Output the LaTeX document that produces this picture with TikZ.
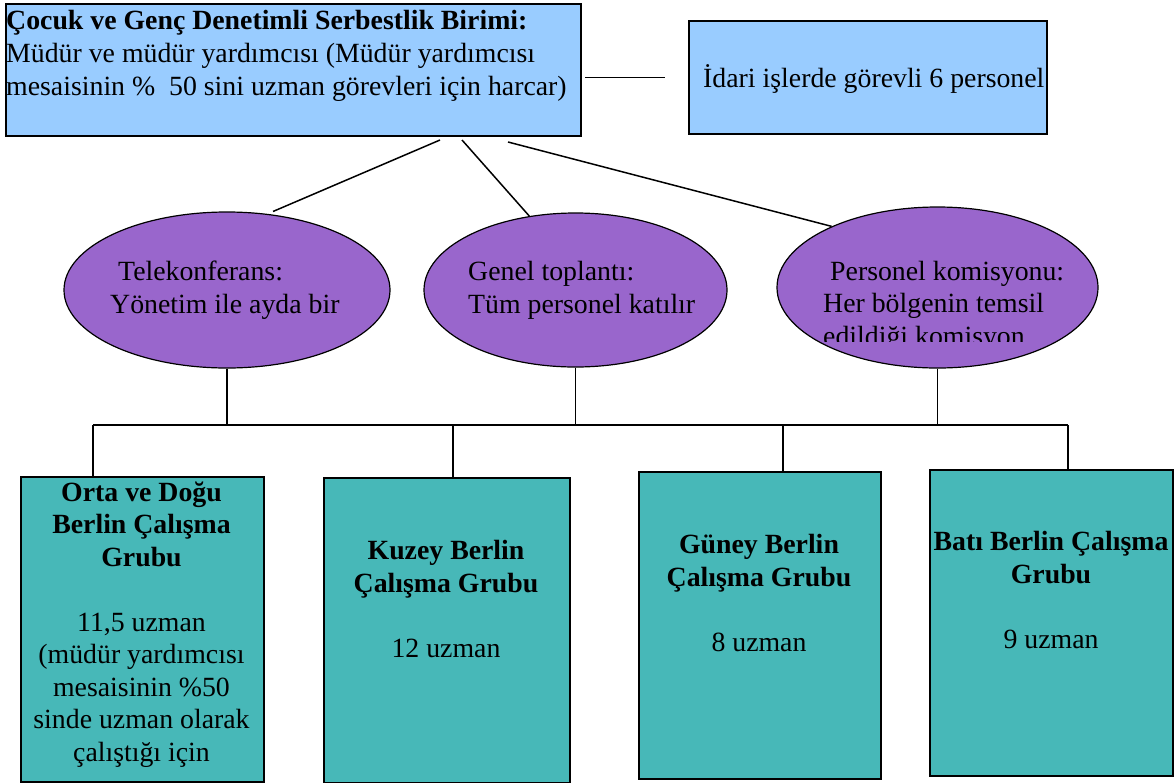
\documentclass[tikz,border=0pt]{standalone}
\usepackage{fontspec}
\setmainfont{Liberation Serif}
\usepackage{xcolor}
\usepackage{tikz}
\usetikzlibrary{calc, positioning, shapes.geometric}
\definecolor{unitblue}{HTML}{99CCFF}
\definecolor{meetpurple}{HTML}{9966CC}
\definecolor{groupteal}{HTML}{47B8B8}
\def\txt{\fontsize{27.8}{32.5}\selectfont}
\def\toptxt{\fontsize{27.8}{33}\selectfont}

\begin{document}
\begin{tikzpicture}[x=1pt, y=-1pt,
    topbox/.style={draw, line width=2pt, fill=unitblue, anchor=north west, inner sep=0pt},
    meeting/.style={draw, line width=1.2pt, fill=meetpurple, ellipse, inner sep=0pt},
    groupbox/.style={draw, line width=2pt, fill=groupteal, anchor=north west, inner sep=0pt},
    boxtext/.style={font=\txt, align=left, anchor=base west, inner sep=0pt},
    grouptext/.style={font=\txt, align=center, anchor=base, inner sep=0pt},
    link/.style={line width=1.5pt}]
    \useasboundingbox (0,0) rectangle (1174,782);

    % top row (text nodes sit on the baseline of their last line)
    \node[topbox, minimum width=575pt, minimum height=132pt] (unit) at (5,3) {};
    \node[boxtext, font=\toptxt] (unittext) at (6,95) {\textbf{Çocuk ve Genç Denetimli Serbestlik Birimi:}\\Müdür ve müdür yardımcısı (Müdür yardımcısı\\mesaisinin \% \ 50 sini uzman görevleri için harcar)};
    \node[topbox, minimum width=358pt, minimum height=113pt] (idari) at (688,20) {};
    \node[boxtext] (idaritext) at (703,87) {İdari işlerde görevli 6 personel};
    \draw[link] ($(unit.east |- idari.west)+(3,0)$) -- ($(idari.west)+(-23,0)$);

    % meetings
    \node[meeting, minimum width=326pt, minimum height=156pt] (tele) at (227,290) {};
    \node[meeting, minimum width=303pt, minimum height=154pt] (genel) at (575.5,290) {};
    \node[meeting, minimum width=321pt, minimum height=161pt] (komisyon) at (937.5,287.5) {};
    \node[boxtext] (teletext) at (110,313) {\hspace*{8pt}Telekonferans:\\Yönetim ile ayda bir};
    \node[boxtext] (geneltext) at (468,313) {Genel toplantı:\\Tüm personel katılır};
    \begin{scope}
        \clip (777,200) rectangle (1100,341);
        \node[boxtext] (komisyontext) at (823,345) {\hspace*{7pt}Personel komisyonu:\\Her bölgenin temsil\\edildiği komisyon};
    \end{scope}

    \draw[link, shorten >=6pt] ($(unit.south west)+(435,3)$) -- (tele.62);
    \draw[link] ($(unit.south west)+(457,3)$) -- (genel.122);
    \draw[link] ($(unit.south west)+(503,5)$) -- (komisyon.150);

    % working groups
    \node[groupbox, minimum width=243pt, minimum height=305pt] (ortadogu) at (20,476) {};
    \node[groupbox, minimum width=246pt, minimum height=305pt] (kuzey) at (323,477) {};
    \node[groupbox, minimum width=242pt, minimum height=307pt] (guney) at (638,471) {};
    \node[groupbox, minimum width=243pt, minimum height=306pt] (bati) at (929,469) {};

    \node[grouptext] (ortadogutext) at (141.5,761) {\textbf{Orta ve Doğu}\\\textbf{Berlin Çalışma}\\\textbf{Grubu}\\[32.5pt]11,5 uzman\\(müdür yardımcısı\\mesaisinin \%50\\sinde uzman olarak\\çalıştığı için};
    \node[grouptext] (kuzeytext) at (446,657) {\textbf{Kuzey Berlin}\\\textbf{Çalışma Grubu}\\[32.5pt]12 uzman};
    \node[grouptext] (guneytext) at (759,651) {\textbf{Güney Berlin}\\\textbf{Çalışma Grubu}\\[32.5pt]8 uzman};
    \node[grouptext] (batitext) at (1051,648) {\textbf{Batı Berlin Çalışma}\\\textbf{Grubu}\\[32.5pt]9 uzman};

    % bus
    \coordinate (busleft) at (93,425);
    \coordinate (busright) at (1068,425);
    \coordinate (kuzeydrop) at (453,425);
    \coordinate (guneydrop) at (783,425);
    \draw[link] (busleft) -- (busright);
    \draw[link] (tele.south) -- (tele.south |- busleft);
    \draw[link] (genel.south) -- (genel.south |- busleft);
    \draw[link] (komisyon.south) -- (komisyon.south |- busleft);
    \draw[link] (busleft) -- (busleft |- ortadogu.north);
    \draw[link] (kuzeydrop) -- (kuzeydrop |- kuzey.north);
    \draw[link] (guneydrop) -- (guneydrop |- guney.north);
    \draw[link] (busright) -- (busright |- bati.north);
\end{tikzpicture}
\end{document}
